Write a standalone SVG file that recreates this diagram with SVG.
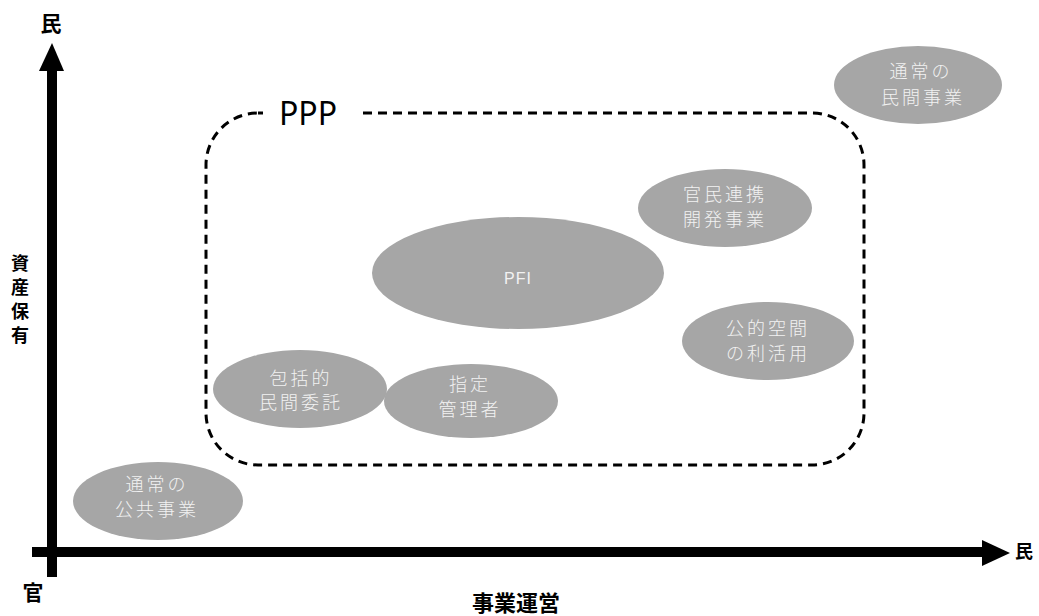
<svg xmlns="http://www.w3.org/2000/svg" width="1039" height="616" viewBox="0 0 1039 616">
  <style>
    .axis { fill: #000; }
    .axis-label { font-family: "Noto Sans CJK JP", "Noto Sans", sans-serif; font-weight: bold; fill: #000; text-anchor: middle; }
    .bubble { fill: #a6a6a6; }
    .bubble-text { font-family: "Noto Sans CJK JP", "Noto Sans", sans-serif; font-size: 18px; font-weight: 300; fill: #f2f2f2; text-anchor: middle; letter-spacing: 3px; }
    .ppp-frame { fill: none; stroke: #000; stroke-width: 3; stroke-dasharray: 9 6; }
  </style>

  <rect width="1039" height="616" fill="#fff"/>

  <!-- axes -->
  <g id="axes">
    <rect class="axis" x="47" y="69" width="10" height="508"/>
    <polygon class="axis" points="39,71 52,43 64,71"/>
    <rect class="axis" x="32" y="547" width="951" height="10"/>
    <polygon class="axis" points="982,540 1010,553 982,566"/>
    <text class="axis-label" x="51" y="31" font-size="21">民</text>
    <text class="axis-label" x="33" y="600" font-size="21">官</text>
    <text class="axis-label" x="1024" y="558" font-size="18">民</text>
    <text class="axis-label" x="516" y="611" font-size="22">事業運営</text>
    <text class="axis-label" x="20" y="270" font-size="18">資</text>
    <text class="axis-label" x="20" y="294" font-size="18">産</text>
    <text class="axis-label" x="20" y="318" font-size="18">保</text>
    <text class="axis-label" x="20" y="342" font-size="18">有</text>
  </g>

  <!-- PPP boundary -->
  <g id="ppp">
    <rect class="ppp-frame" x="206" y="113" width="658" height="352" rx="52" ry="52"/>
    <rect x="263" y="98" width="96" height="30" fill="#fff"/>
    <text x="308" y="125" font-family="'Noto Sans', 'Open Sans', sans-serif" font-size="32" text-anchor="middle" fill="#000">PPP</text>
  </g>

  <g id="connectors"></g>

  <g id="node-private">
    <ellipse class="bubble" cx="918" cy="85" rx="84" ry="39"/>
    <text class="bubble-text"><tspan x="921" y="78">通常の</tspan><tspan x="923" y="104">民間事業</tspan></text>
  </g>

  <g id="node-development">
    <ellipse class="bubble" cx="725" cy="208" rx="87" ry="39"/>
    <text class="bubble-text"><tspan x="725" y="201">官民連携</tspan><tspan x="725" y="226">開発事業</tspan></text>
  </g>

  <g id="node-pfi">
    <ellipse class="bubble" cx="518" cy="273" rx="146" ry="56"/>
    <text x="518" y="284" font-family="'Liberation Sans', sans-serif" font-size="16" letter-spacing="1" fill="#f2f2f2" text-anchor="middle">PFI</text>
  </g>

  <g id="node-public-space">
    <ellipse class="bubble" cx="768" cy="341" rx="86" ry="39"/>
    <text class="bubble-text"><tspan x="768" y="335">公的空間</tspan><tspan x="768" y="360">の利活用</tspan></text>
  </g>

  <g id="node-outsourcing">
    <ellipse class="bubble" cx="300" cy="389" rx="87" ry="39"/>
    <text class="bubble-text"><tspan x="301" y="385">包括的</tspan><tspan x="301" y="409">民間委託</tspan></text>
  </g>

  <g id="node-designated">
    <ellipse class="bubble" cx="471" cy="401" rx="87" ry="37"/>
    <text class="bubble-text"><tspan x="470" y="391">指定</tspan><tspan x="470" y="416">管理者</tspan></text>
  </g>

  <g id="node-public">
    <ellipse class="bubble" cx="158" cy="501" rx="85" ry="39"/>
    <text class="bubble-text"><tspan x="157" y="491">通常の</tspan><tspan x="157" y="516">公共事業</tspan></text>
  </g>
</svg>
